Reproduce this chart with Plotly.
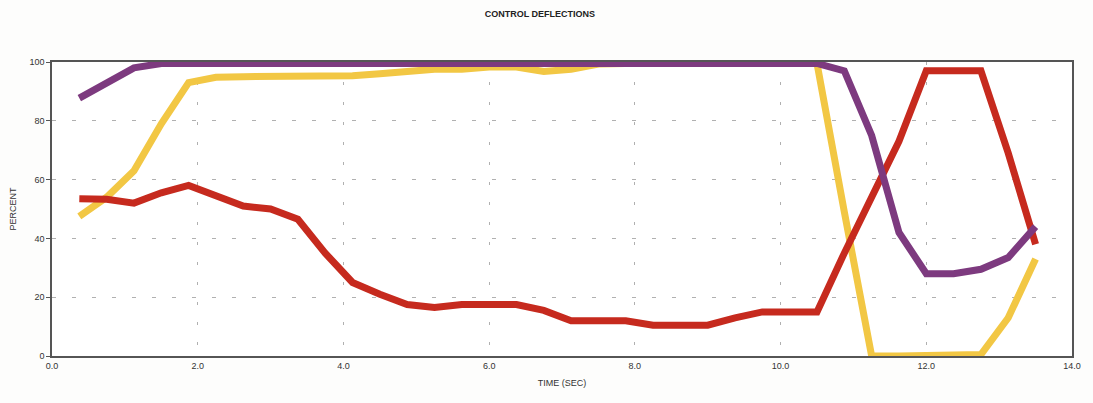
import plotly.graph_objects as go

time_sec = [0.375, 0.75, 1.125, 1.5, 1.875, 2.25, 2.625, 3.0, 3.375, 3.75, 4.125, 4.5,
            4.875, 5.25, 5.625, 6.0, 6.375, 6.75, 7.125, 7.5, 7.875, 8.25, 8.625, 9.0,
            9.375, 9.75, 10.125, 10.5, 10.875, 11.25, 11.625, 12.0, 12.375, 12.75, 13.125, 13.5]

red_pct = [53.5, 53.3, 52, 55.5, 58, 54.5, 51, 50, 46.5, 35, 25, 21,
           17.5, 16.5, 17.5, 17.5, 17.5, 15.5, 12, 12, 12, 10.5, 10.5, 10.5,
           13, 15, 15, 15, 35, 54, 73, 97, 97, 97, 69, 38]

purple_pct = [87.7, 93, 98, 99.5, 99.5, 99.5, 99.5, 99.5, 99.5, 99.5, 99.5, 99.5,
              99.5, 99.5, 99.5, 99.5, 99.5, 99.5, 99.5, 99.5, 99.5, 99.5, 99.5, 99.5,
              99.5, 99.5, 99.5, 99.5, 97, 75, 42, 28, 28, 29.5, 33.5, 44]

yellow_pct = [47.5, 54, 63, 79, 93, 94.8, 95, 95, 95, 95, 95.3, 96,
              97, 97.5, 97.5, 98.3, 98.3, 96.8, 97.5, 99.3, 99.5, 99.5, 99.5, 99.5,
              99.5, 99.5, 99.5, 99.5, 49, 0, 0, 0, 0, 0.5, 13, 33]

x_ticks = [0, 2, 4, 6, 8, 10, 12, 14]
x_tick_labels = ["0.0", "2.0", "4.0", "6.0", "8.0", "10.0", "12.0", "14.0"]
y_ticks = [0, 20, 40, 60, 80, 100]

fig = go.Figure()
series = [
    (yellow_pct, "#F2C744"),
    (red_pct, "#C62A1E"),
    (purple_pct, "#7D3A7F"),
]
for vals, col in series:
    fig.add_trace(go.Scatter(x=time_sec, y=vals, mode="lines",
                             line=dict(color=col, width=7), showlegend=False,
                             cliponaxis=False))

axis_font = dict(family="Liberation Sans, Arial, sans-serif", size=9, color="#333333")

fig.update_layout(
    width=1093, height=403,
    margin=dict(l=52, r=16, t=62, b=47),
    paper_bgcolor="#FDFDFC", plot_bgcolor="#FFFFFF",
    title=dict(text="<b>CONTROL DEFLECTIONS</b>", x=0.494, xanchor="center",
               y=1 - 14 / 403, yanchor="middle",
               font=dict(family="Liberation Sans, Arial, sans-serif", size=9, color="#222222")),
    font=axis_font,
)
fig.update_xaxes(range=[0, 14], tickvals=x_ticks, ticktext=x_tick_labels,
                 showline=True, linecolor="#555555", linewidth=1.5, mirror=True,
                 showgrid=True, gridcolor="#B0B0B0", gridwidth=1, griddash="3px,17px",
                 ticks="", zeroline=False, tickfont=axis_font,
                 title=dict(text="TIME (SEC)", font=axis_font, standoff=10))
fig.update_yaxes(range=[0, 100], tickvals=y_ticks,
                 showline=True, linecolor="#555555", linewidth=1.5, mirror=True,
                 showgrid=True, gridcolor="#B0B0B0", gridwidth=1, griddash="4px,16px",
                 ticks="outside", ticklen=4, tickcolor="#555555", zeroline=False,
                 tickfont=axis_font,
                 title=dict(text="PERCENT", font=axis_font, standoff=11))

fig.write_html("out.html")
